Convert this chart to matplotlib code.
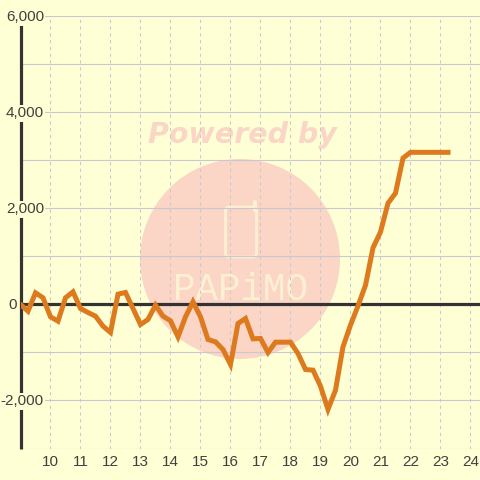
import numpy as np
import matplotlib
matplotlib.use('Agg')
import matplotlib.pyplot as plt
from matplotlib.patches import Circle, FancyBboxPatch

plt.rcParams['font.family'] = ['Liberation Sans', 'DejaVu Sans']

# values every quarter step, starting at x = 9
start = 9
step = 0.25
values = [0, -140, 243, 140, -257, -347, 140, 264, -83, -167,
          -243, -451, -583, 215, 250, -83, -417, -312, -14, -243,
          -340, -674, -257, 56, -257, -729, -778, -938, -1250, -396,
          -292, -715, -708, -1000, -785, -785, -785, -1021, -1354, -1368,
          -1701, -2187, -1785, -882, -430, -30, 400, 1180, 1510, 2110,
          2320, 3050, 3170, 3170, 3170, 3170, 3170, 3170]
x_ticks = list(range(10, 25))
y_grid = list(range(-3000, 7000, 1000))
y_labels = {6000: '6,000', 4000: '4,000', 2000: '2,000', 0: '0', -2000: '-2,000'}

bg = '#FFFFD5'
grid = '#C8C8D0'
dark = '#333333'
text_col = '#404040'
orange = '#DE7A1E'
wm = '#FBD5C5'
wm_light = '#FEF0D2'

x = start + step * np.arange(len(values))

fig = plt.figure(figsize=(4.8, 4.8), dpi=100, facecolor=bg)

# watermark, drawn in pixel coordinates behind the chart
wa = fig.add_axes([0, 0, 1, 1], zorder=0)
wa.set_xlim(0, 480)
wa.set_ylim(480, 0)
wa.axis('off')
wa.add_patch(Circle((240, 259), 100, fc=wm, ec='none'))
wa.text(242, 135, 'Powered by', color=wm, fontsize=20.5, fontweight='bold', fontstyle='italic',
        family='DejaVu Sans', ha='center', va='center')
wa.add_patch(FancyBboxPatch((225.5, 207), 31, 50, boxstyle='round,pad=0,rounding_size=4',
                            fc='none', ec=wm_light, lw=2))
wa.plot([254.5, 254.5], [202, 210], color=wm_light, lw=3, solid_capstyle='round')
wa.text(240, 290, 'PAPiMO', color=wm_light, fontsize=27, family='Liberation Mono',
        ha='center', va='center')

ax = fig.add_axes([20.5 / 480, 31.5 / 480, 459.5 / 480, 432.5 / 480], zorder=1)
ax.patch.set_alpha(0)
ax.set_xlim(9, 24.317)
ax.set_ylim(-3000, 6010)

ax.set_xticks(x_ticks)
ax.set_xticklabels([str(t) for t in x_ticks], fontsize=11, color=text_col)
ax.set_yticks(y_grid)
ax.set_yticklabels([])
ax.tick_params(length=0, pad=5)
ax.grid(axis='y', color=grid, lw=0.8, zorder=1)
ax.grid(axis='x', color=grid, lw=0.75, ls=(0, (3, 3.5)), zorder=1)

for s in ['top', 'right', 'bottom']:
    ax.spines[s].set_visible(False)
ax.spines['left'].set_color(dark)
ax.spines['left'].set_linewidth(2.3)
ax.spines['left'].set_capstyle('butt')
ax.axhline(0, color=dark, lw=2.3, zorder=2)

ax.plot(x, values, color=orange, lw=3.6, solid_joinstyle='miter', zorder=3)

for v, lab in y_labels.items():
    xpos = 9.78 if v != 0 else 8.87
    ax.text(xpos, v - 20, lab, fontsize=11, color=text_col, ha='right', va='center', zorder=5,
            clip_on=False, bbox=dict(fc=bg, ec='none', pad=0.8))

fig.savefig('out.png', dpi=100, facecolor=bg)
